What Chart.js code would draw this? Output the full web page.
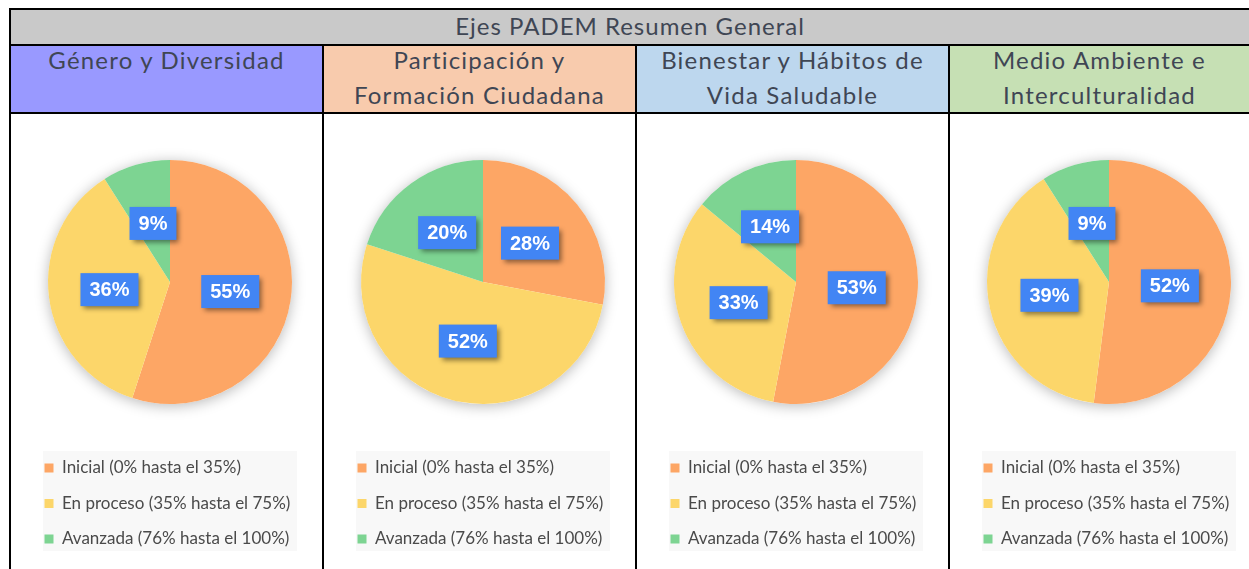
<!DOCTYPE html>
<html>
<head>
<meta charset="utf-8">
<script src="https://cdn.jsdelivr.net/npm/chart.js@4"></script>
<style>
  body { margin: 0; width: 1249px; height: 569px; overflow: hidden; background: #fff; font-family: 'Lato', sans-serif; color: #3f4654; }
  .line { position: absolute; background: #000; }
  .title { position: absolute; left: 11px; top: 10px; width: 1238px; height: 34px; background: #c9c9c9;
           text-align: center; font-size: 24px; line-height: 32px; letter-spacing: 1px; }
  .head { position: absolute; top: 46px; height: 66px; text-align: center; font-size: 24px; line-height: 35px;
          white-space: pre-line; letter-spacing: 1.2px; }
  .head span { position: relative; top: -4px; }
  .cell { position: absolute; top: 114px; width: 311px; height: 455px; }
</style>
</head>
<body>
<div id="root"></div>
<script>
const titulo = 'Ejes PADEM Resumen General';
const ejes = ['Género y Diversidad', 'Participación y\nFormación Ciudadana', 'Bienestar y Hábitos de\nVida Saludable', 'Medio Ambiente e\nInterculturalidad'];
const headColors = ['#9999ff', '#f8cbad', '#bdd7ee', '#c6e0b4'];
const niveles = ['Inicial (0% hasta el 35%)', 'En proceso (35% hasta el 75%)', 'Avanzada (76% hasta el 100%)'];
const nivelColors = ['#fda665', '#fcd66a', '#7dd492'];

const genero = [55, 36, 9];
const participacion = [28, 52, 20];
const bienestar = [53, 33, 14];
const medioAmbiente = [52, 39, 9];
const series = [genero, participacion, bienestar, medioAmbiente];

const colLeft = [11, 324, 637, 950];

const root = document.getElementById('root');
function addLine(l, t, w, h) {
    const d = document.createElement('div');
    d.className = 'line';
    Object.assign(d.style, { left: l + 'px', top: t + 'px', width: w + 'px', height: h + 'px' });
    root.appendChild(d);
}

const t = document.createElement('div');
t.className = 'title';
t.textContent = titulo;
root.appendChild(t);

ejes.forEach((name, i) => {
    const h = document.createElement('div');
    h.className = 'head';
    h.style.left = colLeft[i] + 'px';
    h.style.width = (i < 3 ? colLeft[i + 1] - 2 - colLeft[i] : 1249 - colLeft[i]) + 'px';
    h.style.background = headColors[i];
    const s = document.createElement('span');
    s.textContent = name;
    h.appendChild(s);
    root.appendChild(h);

    const c = document.createElement('div');
    c.className = 'cell';
    c.style.left = colLeft[i] + 'px';
    c.innerHTML = '<canvas id="pie' + i + '"></canvas>';
    root.appendChild(c);
});

addLine(9, 8, 1240, 2);
addLine(9, 44, 1240, 2);
addLine(9, 112, 1240, 2);
addLine(9, 8, 2, 561);
[322, 635, 948].forEach(x => addLine(x, 44, 2, 525));

// white disc with a soft shadow under the slices
const pieShadow = {
    id: 'pieShadow',
    beforeDatasetsDraw(chart) {
        const arc = chart.getDatasetMeta(0).data[0];
        const ctx = chart.ctx;
        ctx.save();
        ctx.shadowColor = 'rgba(0,0,0,0.28)';
        ctx.shadowBlur = 14;
        ctx.shadowOffsetY = 2;
        ctx.fillStyle = '#fff';
        ctx.beginPath();
        ctx.arc(arc.x, arc.y, arc.outerRadius, 0, Math.PI * 2);
        ctx.fill();
        ctx.restore();
    }
};

const legendBg = {
    id: 'legendBg',
    beforeDraw(chart) {
        const lg = chart.legend;
        const ctx = chart.ctx;
        ctx.save();
        ctx.fillStyle = '#f8f8f8';
        ctx.fillRect(lg.left + 17, lg.top + 10, 254, 100);
        ctx.restore();
    }
};

const pctLabels = {
    id: 'pctLabels',
    afterDatasetsDraw(chart) {
        const ctx = chart.ctx;
        const data = chart.data.datasets[0].data;
        ctx.save();
        ctx.font = 'bold 20px "Liberation Sans", Arial, sans-serif';
        ctx.textAlign = 'center';
        ctx.textBaseline = 'middle';
        chart.getDatasetMeta(0).data.forEach((arc, i) => {
            const p = arc.tooltipPosition();
            const txt = data[i] + '%';
            const w = ctx.measureText(txt).width + 18;
            const h = 33;
            ctx.save();
            ctx.shadowColor = 'rgba(0,0,0,0.45)';
            ctx.shadowBlur = 5;
            ctx.shadowOffsetX = 3;
            ctx.shadowOffsetY = 3;
            ctx.fillStyle = '#4285f4';
            ctx.fillRect(p.x - w / 2, p.y - h / 2, w, h);
            ctx.restore();
            ctx.fillStyle = '#fff';
            ctx.fillText(txt, p.x, p.y + 1);
        });
        ctx.restore();
    }
};

series.forEach((vals, i) => {
    new Chart(document.getElementById('pie' + i), {
        type: 'pie',
        data: {
            labels: niveles,
            datasets: [{ data: vals, backgroundColor: nivelColors, borderWidth: 0 }]
        },
        options: {
            responsive: true,
            maintainAspectRatio: false,
            animation: false,
            radius: 122,
            layout: { padding: { left: 15, right: 8, top: 9, bottom: 11.5 } },
            plugins: {
                tooltip: { enabled: false },
                legend: {
                    position: 'bottom',
                    align: 'start',
                    labels: {
                        boxWidth: 9, boxHeight: 9, padding: 18.5,
                        color: '#4a4a4a',
                        font: { family: 'Lato', size: 17 }
                    }
                }
            }
        },
        plugins: [pieShadow, legendBg, pctLabels]
    });
});
</script>
</body>
</html>
